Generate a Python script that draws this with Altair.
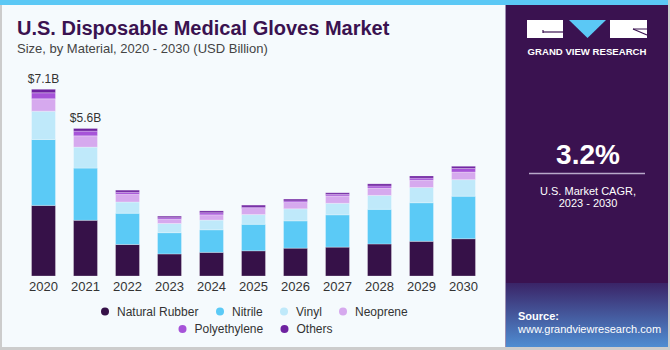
import altair as alt
import pandas as pd

# ---------------- data ----------------
years = ["2020", "2021", "2022", "2023", "2024", "2025", "2026", "2027", "2028", "2029", "2030"]
materials = ["Natural Rubber", "Nitrile", "Vinyl", "Neoprene", "Polyethylene", "Others"]
natural_rubber = [2.69, 2.12, 1.20, 0.84, 0.90, 0.96, 1.06, 1.10, 1.22, 1.32, 1.42]
nitrile = [2.51, 1.99, 1.19, 0.81, 0.86, 1.01, 1.04, 1.23, 1.32, 1.47, 1.62]
vinyl = [1.08, 0.80, 0.43, 0.35, 0.37, 0.37, 0.46, 0.44, 0.53, 0.58, 0.63]
neoprene = [0.47, 0.43, 0.29, 0.16, 0.20, 0.23, 0.24, 0.28, 0.28, 0.28, 0.29]
polyethylene = [0.23, 0.18, 0.08, 0.06, 0.08, 0.05, 0.06, 0.06, 0.08, 0.08, 0.14]
others = [0.13, 0.10, 0.08, 0.06, 0.07, 0.08, 0.07, 0.06, 0.08, 0.08, 0.08]
label_years = ["2020", "2021"]
label_texts = ["$7.1B", "$5.6B"]

colors = ["#361148", "#5bcaf6", "#bfe9fa", "#d6a9ee", "#a653d8", "#6e22a0"]

series = [natural_rubber, nitrile, vinyl, neoprene, polyethylene, others]
rows = []
for i, yr in enumerate(years):
    for j, (m, vals) in enumerate(zip(materials, series)):
        rows.append({"Year": yr, "Material": m, "Value": vals[i], "ord": j})
df = pd.DataFrame(rows)

totals = df.groupby("Year", as_index=False)["Value"].sum()
lab = totals[totals["Year"].isin(label_years)].copy()
lab["Label"] = [label_texts[label_years.index(y)] for y in lab["Year"]]

# ---------------- layout ----------------
OX, OY = 22.5, 66
W, H = 462, 210
FONT = "Liberation Sans"


def px(x):
    return x - OX


def py(y):
    return y - OY


one = pd.DataFrame({"k": [0]})


def rect(x1, y1, x2, y2, color):
    return alt.Chart(one).mark_rect(color=color).encode(
        x=alt.value(px(x1)), x2=alt.value(px(x2)), y=alt.value(py(y1)), y2=alt.value(py(y2)))


def rule(x1, y1, x2, y2, color, w=1.0):
    return alt.Chart(one).mark_rule(color=color, strokeWidth=w).encode(
        x=alt.value(px(x1)), x2=alt.value(px(x2)), y=alt.value(py(y1)), y2=alt.value(py(y2)))


def text(s, x, y, size, color, weight="normal", align="left", baseline="alphabetic"):
    return alt.Chart(one).mark_text(text=s, fontSize=size, color=color, fontWeight=weight,
                                    align=align, baseline=baseline, font=FONT).encode(
        x=alt.value(px(x)), y=alt.value(py(y)))


xenc = alt.X("Year:O", sort=years, title=None,
             scale=alt.Scale(paddingInner=0.43, paddingOuter=0.215),
             axis=alt.Axis(labelAngle=0, ticks=False, domain=False, labelPadding=4,
                           labelFontSize=13, labelColor="#333333", labelFont=FONT, grid=False))
yenc_kw = dict(title=None, scale=alt.Scale(domain=[0, 8], nice=False, zero=True), axis=None)

bars = alt.Chart(df).mark_bar(stroke="#ffffff", strokeWidth=0.6, strokeOpacity=0.45).encode(
    x=xenc,
    y=alt.Y("Value:Q", stack="zero", **yenc_kw),
    color=alt.Color("Material:N", sort=materials,
                    scale=alt.Scale(domain=materials, range=colors),
                    legend=alt.Legend(title=None, values=materials[:4], orient="none",
                                      legendX=px(99), legendY=py(305.5), direction="horizontal",
                                      symbolType="circle", symbolSize=64, symbolStrokeWidth=0,
                                      labelFontSize=12, labelColor="#333333", labelFont=FONT,
                                      columnPadding=15, labelOffset=6)),
    order=alt.Order("ord:Q", sort="ascending"),
)

legend2 = alt.Chart(df[df["Material"].isin(materials[4:])]).mark_point(
    filled=True, opacity=0).encode(
    fill=alt.Fill("Material:N", sort=materials[4:],
                  scale=alt.Scale(domain=materials[4:], range=colors[4:]),
                  legend=alt.Legend(title=None, orient="none", legendX=px(176.5), legendY=py(323),
                                    direction="horizontal", symbolType="circle", symbolSize=64,
                                    symbolOpacity=1, symbolStrokeWidth=0,
                                    labelFontSize=12, labelColor="#333333", labelFont=FONT,
                                    columnPadding=15, labelOffset=6)),
)

tot_text = alt.Chart(lab).mark_text(dy=-6, fontSize=12, color="#333333", font=FONT,
                                    baseline="alphabetic").encode(
    x=xenc,
    y=alt.Y("Value:Q", **yenc_kw),
    text="Label:N",
)

grad = alt.Gradient(gradient="linear",
                    stops=[alt.GradientStop(offset=0, color="#3a2467"),
                           alt.GradientStop(offset=1, color="#4f8dd2")],
                    x1=0, x2=0, y1=0, y2=1)
source_bg = alt.Chart(one).mark_rect(color=grad).encode(
    x=alt.value(px(505)), x2=alt.value(px(668)), y=alt.value(py(283)), y2=alt.value(py(347)))

tri = alt.Chart(one).mark_point(shape="M-1,-0.486L1,-0.486L0,0.486Z", filled=True,
                                color="#5bc8f5", opacity=1, size=1369).encode(
    x=alt.value(px(587.5)), y=alt.value(py(29)))

PURPLE = "#3a1250"

layers = [
    rect(0, 0, 670, 5, "#5bc8f5"),
    rect(505, 5, 668, 283, PURPLE),
    source_bg,
    rule(505.5, 5, 505.5, 347, "#9c8fb2", 1),
    rect(0, 5, 2, 350, "#cccccc"),
    rect(668, 0, 670, 350, "#cccccc"),
    rect(0, 347, 670, 350, "#cccccc"),
    # logo
    rect(527, 20, 563, 38, "#ffffff"),
    rect(610, 20, 647, 38, "#ffffff"),
    rule(543, 32, 563, 32, PURPLE, 1.2),
    rule(543, 30, 543, 33, PURPLE, 1.2),
    rule(633, 29, 647, 35, PURPLE, 1.2),
    rule(633, 29, 647, 29, PURPLE, 1.0),
    tri,
    text("GRAND VIEW RESEARCH", 587, 54.5, 9.6, "#ffffff", weight="bold", align="center"),
    # CAGR box
    text("3.2%", 588, 164, 28, "#ffffff", weight="bold", align="center"),
    rule(529, 173.5, 645, 173.5, "#b8a9c9", 1.5),
    text("U.S. Market CAGR,", 588, 195, 11, "#ffffff", align="center"),
    text("2023 - 2030", 588, 206.5, 11, "#ffffff", align="center"),
    # source
    text("Source:", 518, 319.5, 11, "#ffffff", weight="bold"),
    text("www.grandviewresearch.com", 518, 332.5, 11, "#ffffff"),
    # titles
    text("U.S. Disposable Medical Gloves Market", 17, 35, 20, PURPLE, weight="bold"),
    text("Size, by Material, 2020 - 2030 (USD Billion)", 17, 52.5, 13, "#444444"),
    bars,
    legend2,
    tot_text,
]

chart = alt.layer(*layers).properties(
    width=W, height=H,
    autosize=alt.AutoSizeParams(type="none"),
    padding={"left": OX, "top": OY, "right": 670 - OX - W, "bottom": 350 - OY - H},
    background="#f5fafd",
).configure_view(stroke=None)

chart.save("out.html", embed_options={"renderer": "svg", "actions": False})
